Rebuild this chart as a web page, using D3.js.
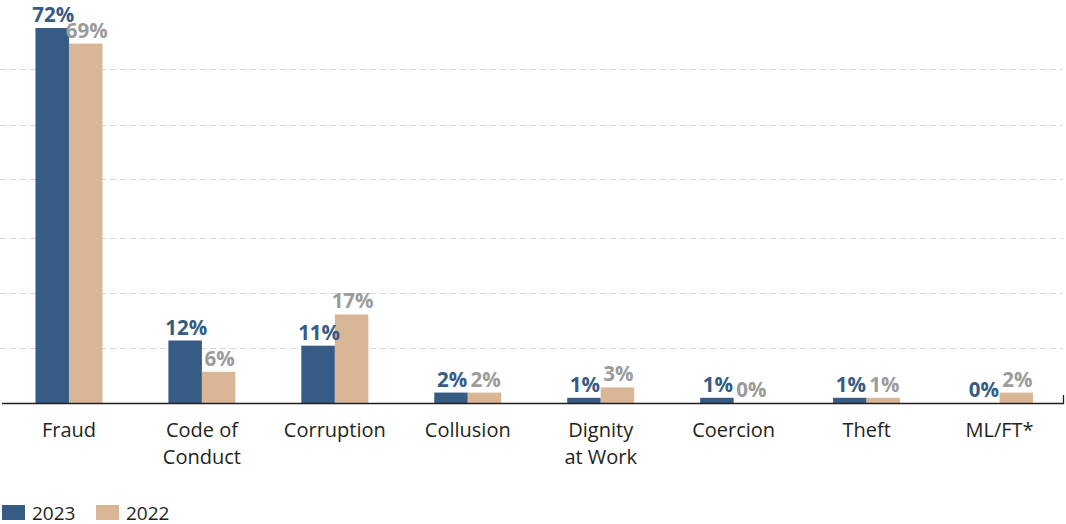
<!DOCTYPE html>
<html>
<head>
<meta charset="utf-8">
<script src="https://cdnjs.cloudflare.com/ajax/libs/d3/7.8.5/d3.min.js"></script>
<style>
  body { margin: 0; background: #fff; }
  svg { display: block; font-family: "Open Sans", sans-serif; }
</style>
</head>
<body>
<div id="chart"></div>
<script>
var categories = [['Fraud'], ['Code of', 'Conduct'], ['Corruption'], ['Collusion'], ['Dignity', 'at Work'], ['Coercion'], ['Theft'], ['ML/FT*']]
var series = ['2023', '2022']
var values2023 = [72, 12, 11, 2, 1, 1, 1, 0]
var values2022 = [69, 6, 17, 2, 3, 0, 1, 2]
var gridTicks = [10.6, 21.2, 31.6, 43, 53.4, 64.2]

var colors = { '2023': '#365b84', '2022': '#d9b796' }
var labelColors = { '2023': '#365b84', '2022': '#9b9b9b' }

var width = 1066, height = 524
var margin = { left: 2.5, right: 0 },
    baseY = 403

var svg = d3.select('#chart').append('svg').attr('width', width).attr('height', height)

var keys = categories.map(d => d.join(' '))
var x0 = d3.scaleBand().domain(keys).range([margin.left, width - margin.right]).padding(0)
var x1 = d3.scaleBand().domain(series).range([x0.bandwidth() * 0.248, x0.bandwidth() * 0.752]).padding(0)
var y = d3.scaleLinear().domain([0, 72]).range([baseY, 28])

// grid lines
svg.append('g').selectAll('line').data(gridTicks).enter().append('line')
  .attr('x1', 0).attr('x2', 1063)
  .attr('y1', d => Math.round(y(d)) + 0.5).attr('y2', d => Math.round(y(d)) + 0.5)
  .attr('stroke', '#d6d6d6').attr('stroke-width', 1).attr('stroke-dasharray', '6,4')

var rows = keys.map((k, i) => ({ key: k, lines: categories[i], v: { '2023': values2023[i], '2022': values2022[i] } }))

var groups = svg.append('g').selectAll('g.cat').data(rows).enter().append('g')
  .classed('cat', true)
  .attr('transform', d => 'translate(' + x0(d.key) + ',0)')

groups.selectAll('rect').data(d => series.map(s => ({ s: s, v: d.v[s] }))).enter().append('rect')
  .attr('x', d => x1(d.s))
  .attr('width', x1.bandwidth())
  .attr('y', d => y(d.v))
  .attr('height', d => baseY - y(d.v))
  .attr('fill', d => colors[d.s])

groups.selectAll('text.value').data(d => series.map(s => ({ s: s, v: d.v[s] }))).enter().append('text')
  .classed('value', true)
  .attr('x', d => x1(d.s) + x1.bandwidth() / 2 + 1)
  .attr('y', d => y(d.v) - 6)
  .attr('text-anchor', 'middle')
  .attr('font-size', 20.5)
  .attr('font-weight', 'bold')
  .attr('fill', d => labelColors[d.s])
  .text(d => d.v + '%')

// category labels
groups.append('text')
  .attr('x', x0.bandwidth() / 2)
  .attr('y', 437)
  .attr('text-anchor', 'middle')
  .attr('font-size', 20)
  .attr('fill', '#231f20')
  .selectAll('tspan').data(d => d.lines).enter().append('tspan')
  .attr('x', x0.bandwidth() / 2)
  .attr('dy', (d, i) => i === 0 ? 0 : 27)
  .text(d => d)

// axis baseline
svg.append('path')
  .attr('d', 'M2,' + (baseY + 0.5) + 'H1063.5V' + (baseY - 8))
  .attr('fill', 'none').attr('stroke', '#231f20').attr('stroke-width', 1.3)

// legend
var legend = svg.append('g').selectAll('g').data(series).enter().append('g')
  .attr('transform', (d, i) => 'translate(' + (2 + i * 94) + ',505)')
legend.append('rect').attr('width', 23).attr('height', 15).attr('fill', d => colors[d])
legend.append('text').attr('x', 30).attr('y', 14.5).attr('font-size', 19).attr('fill', '#231f20').text(d => d)
</script>
</body>
</html>
